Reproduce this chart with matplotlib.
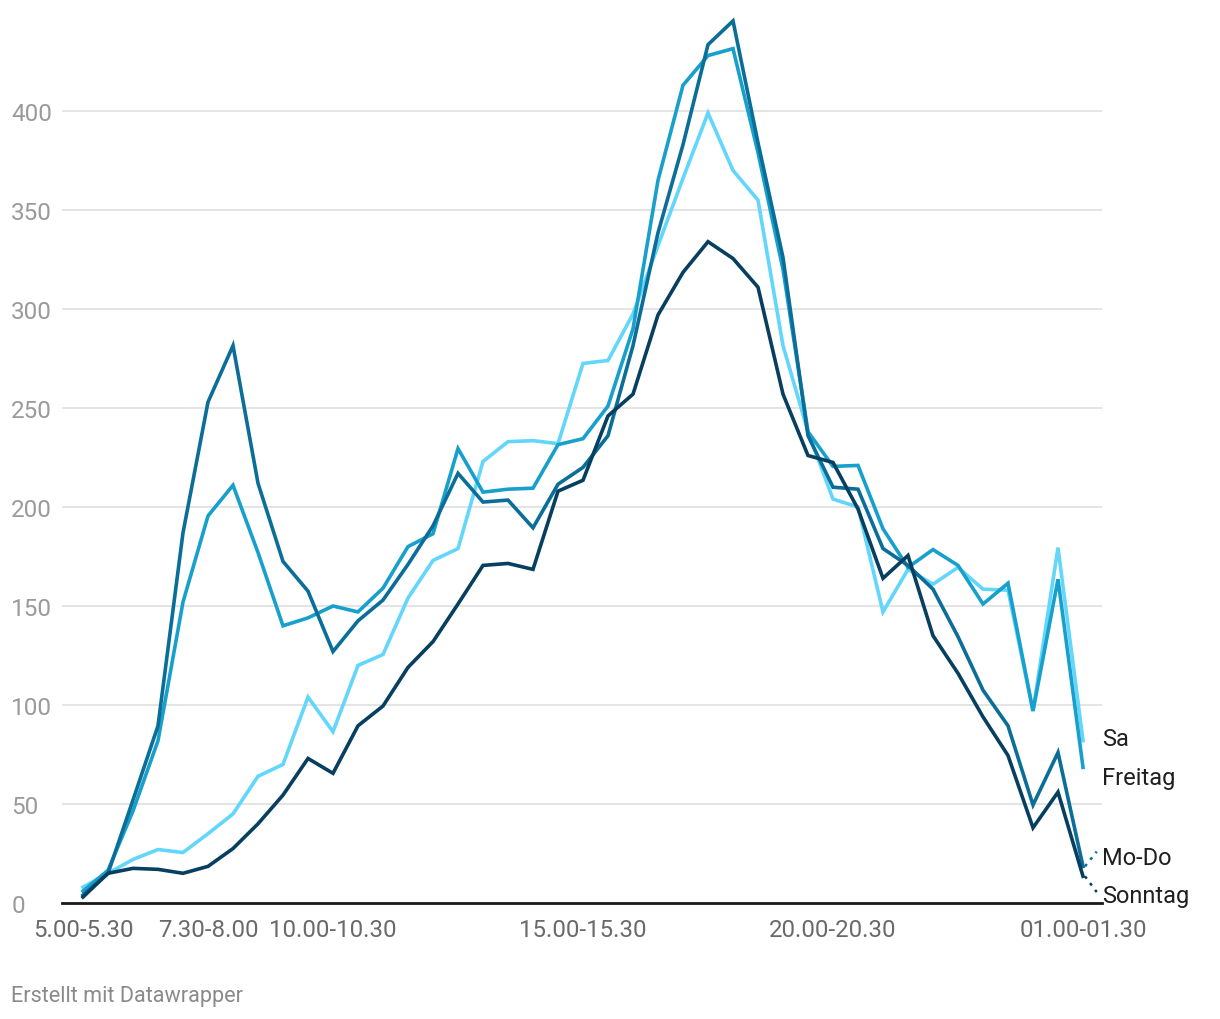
import numpy as np
import matplotlib.pyplot as plt

plt.rcParams['font.family'] = ['Roboto', 'DejaVu Sans']

# half-hour slots, 5.00-5.30 ... 01.00-01.30
slots = ['5.00-5.30', '5.30-6.00', '6.00-6.30', '6.30-7.00', '7.00-7.30',
         '7.30-8.00', '8.00-8.30', '8.30-9.00', '9.00-9.30', '9.30-10.00',
         '10.00-10.30', '10.30-11.00', '11.00-11.30', '11.30-12.00', '12.00-12.30',
         '12.30-13.00', '13.00-13.30', '13.30-14.00', '14.00-14.30', '14.30-15.00',
         '15.00-15.30', '15.30-16.00', '16.00-16.30', '16.30-17.00', '17.00-17.30',
         '17.30-18.00', '18.00-18.30', '18.30-19.00', '19.00-19.30', '19.30-20.00',
         '20.00-20.30', '20.30-21.00', '21.00-21.30', '21.30-22.00', '22.00-22.30',
         '22.30-23.00', '23.00-23.30', '23.30-00.00', '00.00-00.30', '00.30-01.00',
         '01.00-01.30']
shown_ticks = ['5.00-5.30', '7.30-8.00', '10.00-10.30', '15.00-15.30',
               '20.00-20.30', '01.00-01.30']

mo_do = [4, 15, 52, 89.5, 187, 253, 281.5, 212, 172.5, 157.5,
         127, 142.5, 153, 171, 190.5, 217, 202.5, 203.5, 189.5, 211.5,
         220, 236, 281.5, 338.5, 383, 433.5, 445.5, 384, 326, 236,
         210, 209, 179, 170.5, 158.5, 134.5, 107.5, 89.5, 49.5, 76, 18.5]
freitag = [6, 16.5, 46.5, 82, 152, 195.5, 211, 177, 140, 144,
           150, 147, 159, 180, 186.5, 229.5, 207.5, 209, 209.5, 231.5,
           234.5, 251, 290, 365, 413, 428, 431.5, 379, 320, 238,
           220.5, 221, 189, 169.5, 178.5, 170.5, 151, 161.5, 97, 163.5, 68.5]
samstag = [8, 15, 22, 27, 25.5, 35, 45, 64, 70, 104,
           86.5, 120, 125.5, 154, 173, 179, 223, 233, 233.5, 232,
           272.5, 274, 297.5, 332, 366, 399, 370, 355, 281.5, 238,
           204, 200, 147, 168.5, 161, 169.5, 158.5, 158, 97, 179.5, 82]
sonntag = [3, 15, 17.5, 17, 15, 18.5, 27.5, 40, 54.5, 73,
           65.5, 89.5, 99.5, 119, 132, 151, 170.5, 171.5, 168.5, 208,
           213.5, 246, 257, 297, 318.5, 334, 325.5, 311, 257, 226,
           222.5, 199, 164, 175.5, 135, 116, 94, 74.5, 38, 56, 13.5]

names = ['Sa', 'Freitag', 'Mo-Do', 'Sonntag']
series = [samstag, freitag, mo_do, sonntag]
colors = ['#62d6fb', '#18a0cd', '#0b6e98', '#073f60']
label_y = [83, 63.5, 23, 4]
has_leader = [False, False, True, True]

x = np.arange(len(slots))

fig = plt.figure(figsize=(12.2, 10.2), dpi=100)
ax = fig.add_axes([62 / 1220, 116 / 1020, 1040 / 1220, 891 / 1020])

for name, vals, c in zip(names, series, colors):
    ax.plot(x, vals, color=c, lw=2.6, solid_joinstyle='miter', zorder=3)

ax.set_xlim(-0.84, 40.76)
ax.set_ylim(0, 450)

# grid
ax.set_yticks([0, 50, 100, 150, 200, 250, 300, 350, 400])
ax.grid(axis='y', color='#e2e2e2', lw=1.3)
ax.set_axisbelow(True)
ax.tick_params(axis='y', length=0, pad=36.5, labelsize=17.5, labelcolor='#9a9a9a')
for t in ax.get_yticklabels():
    t.set_horizontalalignment('left')

ax.set_xticks([slots.index(s) for s in shown_ticks])
ax.set_xticklabels(shown_ticks)
ax.tick_params(axis='x', length=0, pad=11, labelsize=17.3, labelcolor='#6a6a6a')

for s in ['top', 'right', 'left']:
    ax.spines[s].set_visible(False)
ax.spines['bottom'].set_color('#1a1a1a')
ax.spines['bottom'].set_linewidth(2)
ax.spines['bottom'].set_zorder(4)

# line labels on the right
for name, vals, c, ly, lead in zip(names, series, colors, label_y, has_leader):
    ax.text(40.76, ly, name, fontsize=17, color='#1f1f1f', ha='left', va='center',
            clip_on=False)
    if lead:
        end_y = ly + 3 if ly > vals[-1] else ly + 1.5
        ax.plot([40.08, 40.55], [vals[-1], end_y],
                color=c, lw=1.8, ls=(0, (1.2, 2.2)), clip_on=False)

fig.text(11 / 1220, 1 - 997 / 1020, 'Erstellt mit Datawrapper', fontsize=15.6,
         color='#8a8a8a', ha='left', va='center')

fig.savefig('out.png', dpi=100)
